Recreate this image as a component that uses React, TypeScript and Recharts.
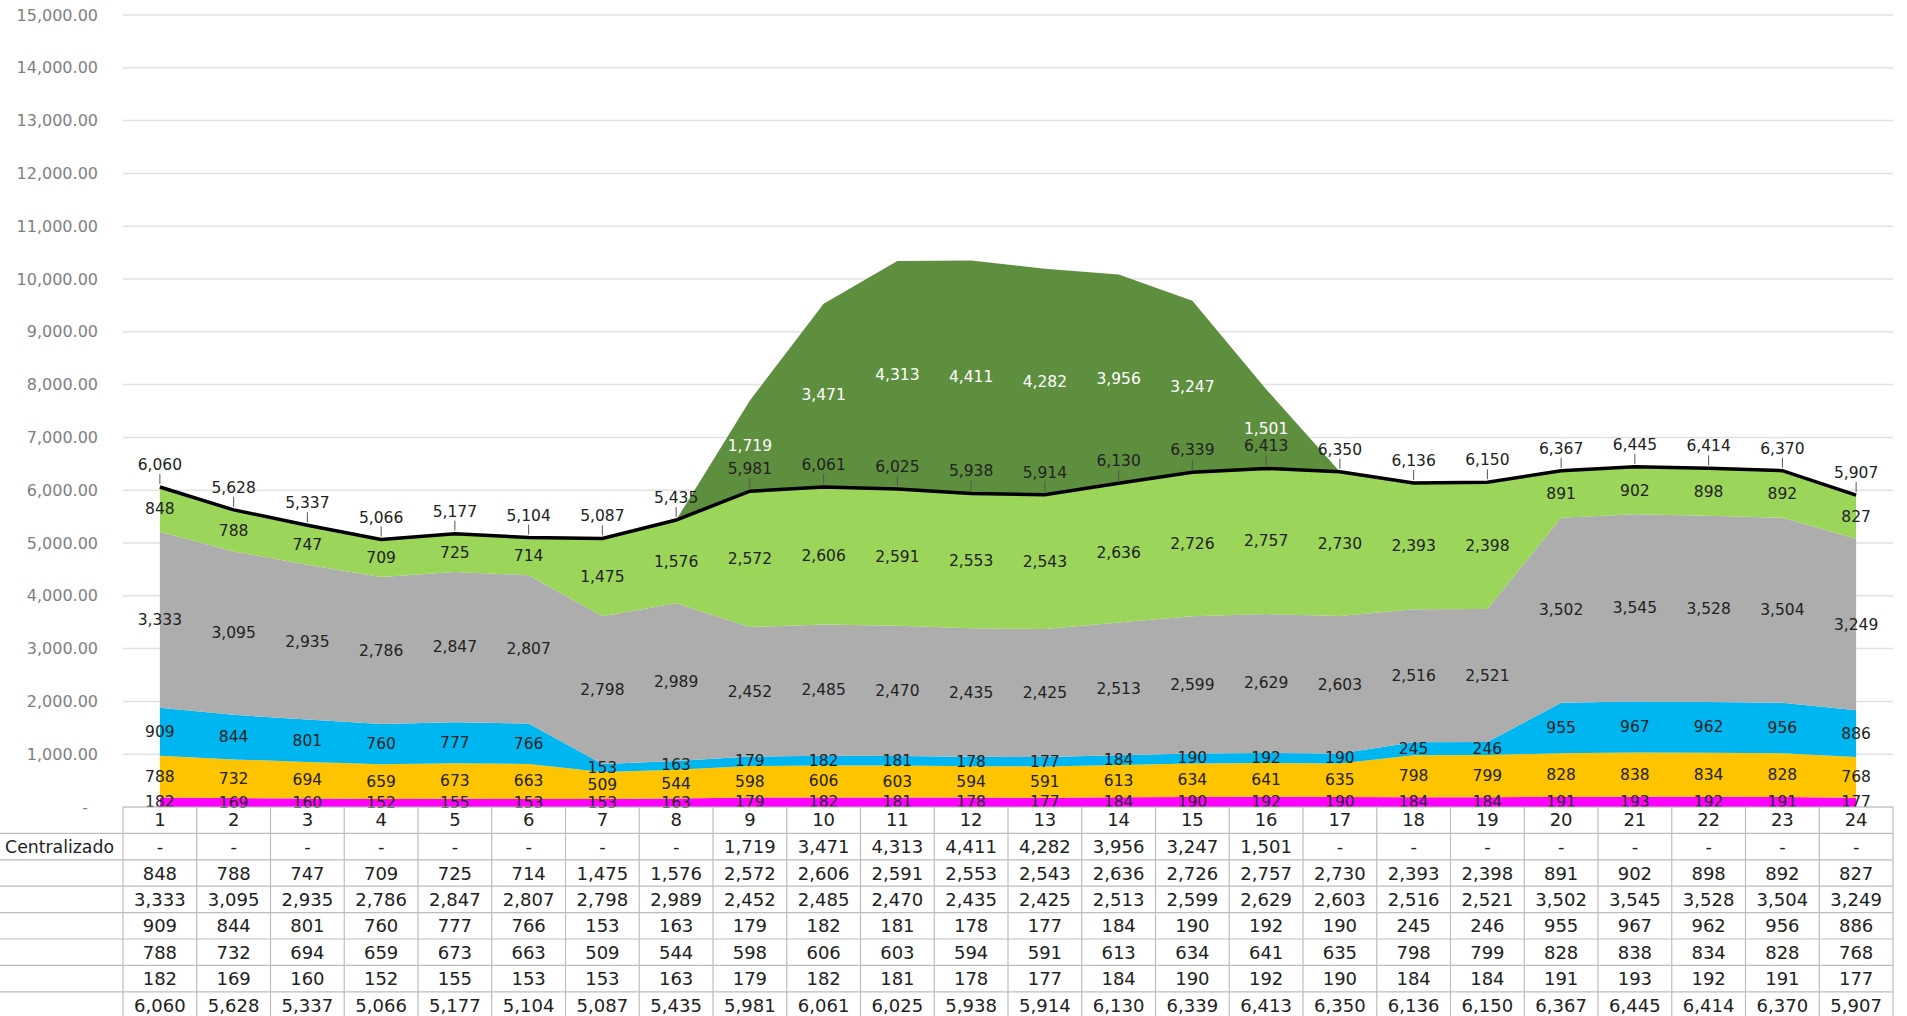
import React from "react";
import { AreaChart, Area, Line, XAxis, YAxis, CartesianGrid } from "recharts";

const hours = [1, 2, 3, 4, 5, 6, 7, 8, 9, 10, 11, 12, 13, 14, 15, 16, 17, 18, 19, 20, 21, 22, 23, 24];
const centralizado = [0, 0, 0, 0, 0, 0, 0, 0, 1719, 3471, 4313, 4411, 4282, 3956, 3247, 1501, 0, 0, 0, 0, 0, 0, 0, 0];
const serieVerde = [848, 788, 747, 709, 725, 714, 1475, 1576, 2572, 2606, 2591, 2553, 2543, 2636, 2726, 2757, 2730, 2393, 2398, 891, 902, 898, 892, 827];
const serieGris = [3333, 3095, 2935, 2786, 2847, 2807, 2798, 2989, 2452, 2485, 2470, 2435, 2425, 2513, 2599, 2629, 2603, 2516, 2521, 3502, 3545, 3528, 3504, 3249];
const serieAzul = [909, 844, 801, 760, 777, 766, 153, 163, 179, 182, 181, 178, 177, 184, 190, 192, 190, 245, 246, 955, 967, 962, 956, 886];
const serieNaranja = [788, 732, 694, 659, 673, 663, 509, 544, 598, 606, 603, 594, 591, 613, 634, 641, 635, 798, 799, 828, 838, 834, 828, 768];
const serieMagenta = [182, 169, 160, 152, 155, 153, 153, 163, 179, 182, 181, 178, 177, 184, 190, 192, 190, 184, 184, 191, 193, 192, 191, 177];
const total = [6060, 5628, 5337, 5066, 5177, 5104, 5087, 5435, 5981, 6061, 6025, 5938, 5914, 6130, 6339, 6413, 6350, 6136, 6150, 6367, 6445, 6414, 6370, 5907];
const yTicks = [0, 1000, 2000, 3000, 4000, 5000, 6000, 7000, 8000, 9000, 10000, 11000, 12000, 13000, 14000, 15000];
const rowLabels = ["Centralizado", "", "", "", "", "", ""];

const W = 1907;
const H = 1016;
const M = { top: 15, right: 14, bottom: 183, left: 0 };
const YW = 123;
const XH = 26;
const Y_MAX = 15000;
const PLOT_TOP = M.top;
const PLOT_BOTTOM = H - M.bottom - XH;
const PLOT_LEFT = M.left + YW;
const PLOT_RIGHT = W - M.right;
const PX = (PLOT_BOTTOM - PLOT_TOP) / Y_MAX;
const COL_W = (PLOT_RIGHT - PLOT_LEFT) / hours.length;
const ROW_H = 26.4;

const FONT = "'DejaVu Sans', Verdana, sans-serif";
const LABEL_FS = 15.5;
const TABLE_FS = 18;

const data = hours.map((h, i) => ({
  hour: h,
  magenta: serieMagenta[i],
  naranja: serieNaranja[i],
  azul: serieAzul[i],
  gris: serieGris[i],
  verde: serieVerde[i],
  centralizado: centralizado[i],
  total: total[i],
}));

const fmt = (v: number) => (v === 0 ? "-" : v.toLocaleString("en-US"));

const makeBandLabel = (vals: number[], color: string) => (props: any) => {
  const { x, y } = props;
  let index = props.index;
  if (index === undefined && props.payload) index = props.payload.hour - 1;
  const v = vals[index];
  if (!v || x === undefined || y === undefined) return null;
  const cy = y + (v * PX) / 2;
  return (
    <text
      key={"l" + index}
      x={x}
      y={cy}
      textAnchor="middle"
      dominantBaseline="central"
      fill={color}
      fontSize={LABEL_FS}
      fontFamily={FONT}
    >
      {fmt(v)}
    </text>
  );
};

const TotalLabel = (props: any) => {
  const { x, y } = props;
  let index = props.index;
  if (index === undefined && props.payload) index = props.payload.hour - 1;
  const v = total[index];
  if (x === undefined || y === undefined) return null;
  return (
    <g key={"t" + index}>
      <line x1={x} y1={y - 3} x2={x} y2={y - 13} stroke="#555" strokeWidth={1} />
      <text x={x} y={y - 17} textAnchor="middle" fill="#222" fontSize={LABEL_FS} fontFamily={FONT}>
        {fmt(v)}
      </text>
    </g>
  );
};

const YTick = (props: any) => {
  const { x, y, payload } = props;
  const v = payload.value;
  return (
    <text
      x={v === 0 ? x - 10 : x}
      y={y}
      textAnchor="end"
      dominantBaseline="central"
      fill="#7f7f7f"
      fontSize={16}
      fontFamily={FONT}
    >
      {v === 0 ? "-" : v.toLocaleString("en-US", { minimumFractionDigits: 2, maximumFractionDigits: 2 })}
    </text>
  );
};

const XTick = (props: any) => {
  const { x, payload } = props;
  return (
    <text x={x} y={PLOT_BOTTOM + 19} textAnchor="middle" fill="#222" fontSize={TABLE_FS} fontFamily={FONT}>
      {payload.value}
    </text>
  );
};

const tableRows = [centralizado, serieVerde, serieGris, serieAzul, serieNaranja, serieMagenta, total];

const DataTable = () => {
  const lines: React.ReactNode[] = [];
  const texts: React.ReactNode[] = [];
  const border = "#bdbdbd";
  lines.push(<line key="top" x1={PLOT_LEFT} y1={PLOT_BOTTOM} x2={PLOT_RIGHT} y2={PLOT_BOTTOM} stroke={border} strokeWidth={1.2} />);
  for (let r = 1; r <= tableRows.length; r++) {
    const y = PLOT_BOTTOM + r * ROW_H;
    lines.push(<line key={"h" + r} x1={0} y1={y} x2={PLOT_RIGHT} y2={y} stroke={border} strokeWidth={1.2} />);
  }
  for (let c = 0; c <= hours.length; c++) {
    const x = PLOT_LEFT + c * COL_W;
    lines.push(<line key={"v" + c} x1={x} y1={PLOT_BOTTOM} x2={x} y2={H + 10} stroke={border} strokeWidth={1.2} />);
  }
  tableRows.forEach((vals, r) => {
    const cy = PLOT_BOTTOM + (r + 1) * ROW_H + ROW_H / 2;
    if (rowLabels[r]) {
      texts.push(
        <text key={"rl" + r} x={PLOT_LEFT - 9} y={cy} textAnchor="end" dominantBaseline="central" fill="#222" fontSize={17.3} fontFamily={FONT}>
          {rowLabels[r]}
        </text>
      );
    }
    vals.forEach((v, c) => {
      texts.push(
        <text
          key={"c" + r + "_" + c}
          x={PLOT_LEFT + (c + 0.5) * COL_W}
          y={cy}
          textAnchor="middle"
          dominantBaseline="central"
          fill="#222"
          fontSize={TABLE_FS}
          fontFamily={FONT}
        >
          {fmt(v)}
        </text>
      );
    });
  });
  return (
    <svg width={W} height={H} style={{ position: "absolute", left: 0, top: 0, pointerEvents: "none" }}>
      {lines}
      {texts}
    </svg>
  );
};

export default function App() {
  return (
    <div style={{ position: "absolute", left: 0, top: 0, width: W, height: H, background: "#fff", overflow: "hidden" }}>
      <div style={{ position: "absolute", left: 0, top: 0 }}>
        <AreaChart width={W} height={H} data={data} margin={M}>
          <CartesianGrid vertical={false} stroke="#e2e2e2" strokeWidth={1.5} />
          <XAxis
            dataKey="hour"
            type="number"
            domain={[0.5, 24.5]}
            ticks={hours}
            height={XH}
            axisLine={false}
            tickLine={false}
            tick={<XTick />}
            allowDataOverflow
          />
          <YAxis
            type="number"
            domain={[0, Y_MAX]}
            ticks={yTicks}
            width={YW}
            axisLine={false}
            tickLine={false}
            tickSize={0}
            tickMargin={25}
            tick={<YTick />}
            interval={0}
          />
          <Area type="linear" dataKey="magenta" stackId="a" fill="#ff00ff" stroke="none" fillOpacity={1} isAnimationActive={false} label={makeBandLabel(serieMagenta, "#222")} />
          <Area type="linear" dataKey="naranja" stackId="a" fill="#ffc400" stroke="none" fillOpacity={1} isAnimationActive={false} label={makeBandLabel(serieNaranja, "#222")} />
          <Area type="linear" dataKey="azul" stackId="a" fill="#00b6f0" stroke="none" fillOpacity={1} isAnimationActive={false} label={makeBandLabel(serieAzul, "#222")} />
          <Area type="linear" dataKey="gris" stackId="a" fill="#adadad" stroke="none" fillOpacity={1} isAnimationActive={false} label={makeBandLabel(serieGris, "#222")} />
          <Area type="linear" dataKey="verde" stackId="a" fill="#9bd55a" stroke="none" fillOpacity={1} isAnimationActive={false} label={makeBandLabel(serieVerde, "#222")} />
          <Area type="linear" dataKey="centralizado" name="Centralizado" stackId="a" fill="#5e8f3f" stroke="none" fillOpacity={1} isAnimationActive={false} label={makeBandLabel(centralizado, "#ffffff")} />
          <Line type="linear" dataKey="total" stroke="#000" strokeWidth={3.5} dot={false} isAnimationActive={false} label={<TotalLabel />} />
        </AreaChart>
      </div>
      <DataTable />
    </div>
  );
}
